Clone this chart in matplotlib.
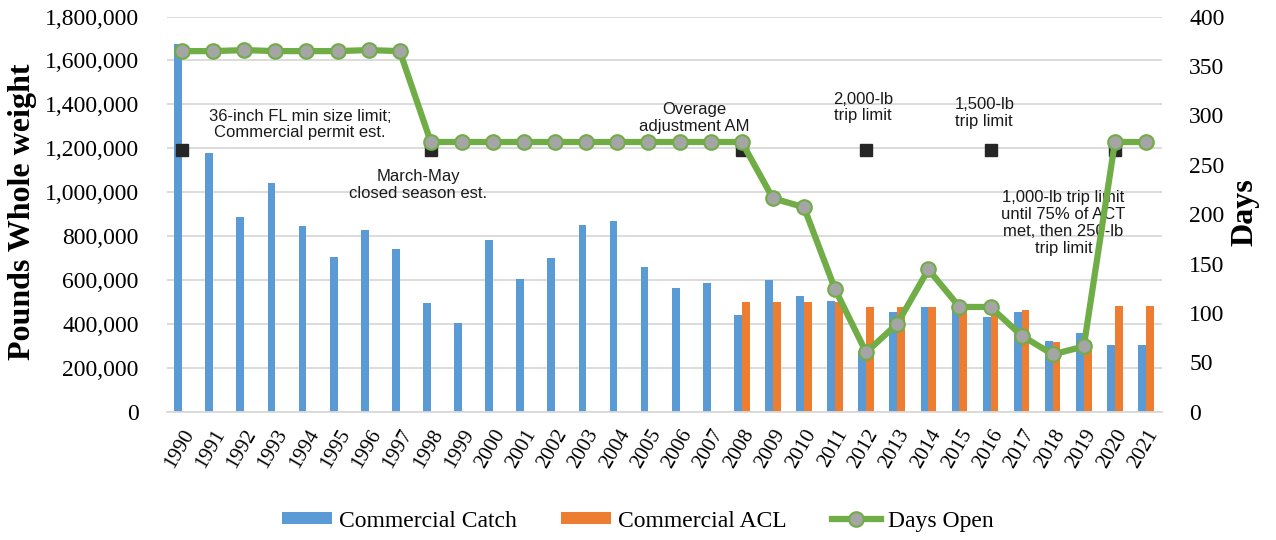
import matplotlib.pyplot as plt
from matplotlib.ticker import FuncFormatter

years = list(range(1990, 2022))
catch = [1675000, 1180000, 886000, 1040000, 845000, 705000, 828000, 740000,
         493000, 405000, 781000, 605000, 698000, 851000, 869000, 658000,
         564000, 587000, 440000, 599000, 528000, 505000, 275000, 452000,
         478000, 470000, 432000, 452000, 322000, 357000, 306000, 305000]
acl = [0] * 18 + [499000, 499000, 499000, 499000, 475000, 475000, 475000,
                  475000, 465000, 463000, 316000, 316000, 481000, 481000]
days_open = [365, 365, 366, 365, 365, 365, 366, 365,
             273, 273, 273, 273, 273, 273, 273, 273, 273, 273, 273,
             216, 207, 124, 60, 89, 144, 106, 106, 77, 58, 66, 273, 273]

# years with a management change (black squares)
event_years = [1990, 1998, 2008, 2012, 2016, 2020]
event_level = 1190000

notes = [
    ("36-inch FL min size limit;\nCommercial permit est.", 1993.8, 1308000),
    ("March-May\nclosed season est.", 1997.6, 1031000),
    ("Overage\nadjustment AM", 2006.47, 1336000),
    ("2,000-lb\ntrip limit", 2011.9, 1386000),
    ("1,500-lb\ntrip limit", 2015.8, 1361000),
    ("1,000-lb trip limit\nuntil 75% of ACT\nmet, then 250-lb\ntrip limit", 2018.35, 860000),
]

serif = 'Liberation Serif'
x = list(range(len(years)))

fig = plt.figure(figsize=(12.76, 5.4), dpi=100)
ax = fig.add_axes([0.1305, 0.2376, 0.7798, 0.7318])

w = 0.25
ax.bar([i - w / 2 for i in x], catch, width=w, color='#5b9bd5', label='Commercial Catch', zorder=2)
ax.bar([i + w / 2 for i in x], acl, width=w, color='#ed7d31', label='Commercial ACL', zorder=2)
ax.plot([years.index(y) for y in event_years], [event_level] * len(event_years),
        linestyle='none', marker='s', markersize=9, color='#262626', zorder=3)

ax.set_xlim(-0.5, len(years) - 0.5)
ax.set_ylim(0, 1800000)
ax.set_yticks(range(0, 1800001, 200000))
ax.yaxis.set_major_formatter(FuncFormatter(lambda v, p: f'{int(v):,}'))
ax.grid(axis='y', color='#d9d9d9', linewidth=1.3, zorder=0)
ax.set_axisbelow(True)
for s in ['top', 'right', 'left']:
    ax.spines[s].set_visible(False)
ax.spines['bottom'].set_color('#d9d9d9')
ax.spines['bottom'].set_linewidth(1.3)
ax.set_xticks(x)
ax.set_xticklabels([str(y) for y in years], rotation=60, ha='right',
                   rotation_mode='anchor', fontsize=15, family=serif)
ax.tick_params(axis='x', length=0, pad=10)
ax.tick_params(axis='y', length=0, pad=20, labelsize=17)
for t in ax.get_yticklabels():
    t.set_family(serif)
ax.set_ylabel('Pounds Whole weight', fontsize=23, fontweight='bold', family=serif)
ax.yaxis.set_label_coords(-0.130, 0.505)

for txt, xv, yv in notes:
    ax.text(xv - 1990, yv, txt, ha='center', va='center', fontsize=12,
            family='Liberation Sans', linespacing=1.15, color='#1a1a1a', zorder=4)

ax2 = ax.twinx()
ax2.plot(x, days_open, color='#70ad47', linewidth=4.5, marker='o', markersize=10.5,
         markerfacecolor='#a5a5a5', markeredgecolor='#70ad47', markeredgewidth=1.5,
         label='Days Open')
ax2.set_ylim(0, 400)
ax2.set_yticks(range(0, 401, 50))
ax2.tick_params(axis='y', length=0, pad=20, labelsize=17)
for t in ax2.get_yticklabels():
    t.set_family(serif)
for s in ax2.spines.values():
    s.set_visible(False)
ax2.set_ylabel('Days', fontsize=23, fontweight='bold', family=serif)
ax2.yaxis.set_label_coords(1.069, 0.505)

h1, l1 = ax.get_legend_handles_labels()
h2, l2 = ax2.get_legend_handles_labels()
fig.legend(h1 + h2, l1 + l2, loc='center', bbox_to_anchor=(0.5, 0.035), ncol=3,
           frameon=False, prop={'family': serif, 'size': 17}, handlelength=2.1,
           handleheight=0.4, handletextpad=0.3, columnspacing=1.9)

fig.savefig('out.png', dpi=100)
